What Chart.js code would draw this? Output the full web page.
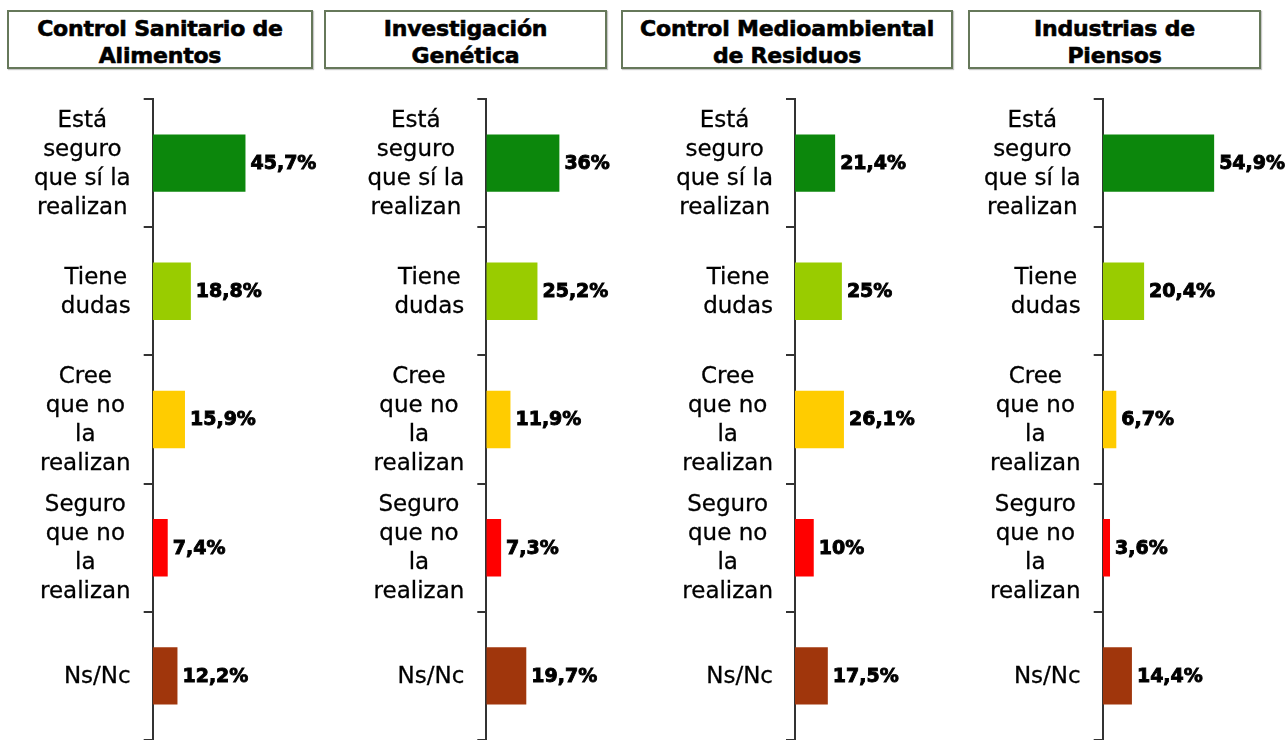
<!DOCTYPE html>
<html>
<head>
<meta charset="utf-8">
<script src="https://cdn.jsdelivr.net/npm/chart.js@4"></script>
<style>
  html, body { margin:0; padding:0; background:#fff; }
  body { width:1287px; height:740px; overflow:hidden; position:relative; font-family:'DejaVu Sans', sans-serif; }
  .title { position:absolute; top:10px; height:59px; box-sizing:border-box; border:2px solid #66785a;
           box-shadow:1px 1px 1px #c8c8c8; font:bold 22px 'DejaVu Sans', sans-serif; color:#000;
           -webkit-text-stroke:0.6px #000; letter-spacing:-0.2px;
           text-align:center; line-height:27px; display:flex; align-items:center; justify-content:center; padding-top:5px; }
  canvas.panel { position:absolute; top:90px; }
</style>
</head>
<body>
<script>
// ---- data ----
const categories = [
  ["Está", "seguro", "que sí la", "realizan"],
  ["Tiene", "dudas"],
  ["Cree", "que no", "la", "realizan"],
  ["Seguro", "que no", "la", "realizan"],
  ["Ns/Nc"]
];
const panelTitles = [
  ["Control Sanitario de", "Alimentos"],
  ["Investigación", "Genética"],
  ["Control Medioambiental", "de Residuos"],
  ["Industrias de", "Piensos"]
];
const valuesSanitario = [45.7, 18.8, 15.9, 7.4, 12.2];
const valuesGenetica  = [36, 25.2, 11.9, 7.3, 19.7];
const valuesResiduos  = [21.4, 25, 26.1, 10, 17.5];
const valuesPiensos   = [54.9, 20.4, 6.7, 3.6, 14.4];
const barColors = ['#0c870c', '#99cc00', '#ffcc00', '#ff0000', '#a0360c'];
const xMax = 80;

// ---- layout (not data) ----
const PX_PER_UNIT = 2.03;
const panels = [
  { values: valuesSanitario, boxL: 7,   boxR: 313,  left: 0,   width: 330, axisX: 152.7 },
  { values: valuesGenetica,  boxL: 324, boxR: 607,  left: 320, width: 330, axisX: 486.3 },
  { values: valuesResiduos,  boxL: 621, boxR: 953,  left: 615, width: 330, axisX: 795 },
  { values: valuesPiensos,   boxL: 968, boxR: 1261, left: 960, width: 327, axisX: 1102.7 }
];
const CANVAS_TOP = 90, CANVAS_H = 660, PLOT_TOP = 99, PLOT_BOTTOM = 740;

const fmt = v => String(v).replace('.', ',') + '%';

const labelPlugin = {
  id: 'customLabels',
  afterDraw(chart) {
    const ctx = chart.ctx;
    const y = chart.scales.y;
    const area = chart.chartArea;
    ctx.save();
    ctx.font = '23px "DejaVu Sans"';
    ctx.fillStyle = '#000';
    ctx.strokeStyle = '#000';
    ctx.lineWidth = 0.3;
    ctx.textAlign = 'center';
    ctx.textBaseline = 'middle';
    const lh = 29;
    categories.forEach((lines, i) => {
      const cy = y.getPixelForValue(i);
      const maxW = Math.max(...lines.map(l => ctx.measureText(l).width));
      const cx = area.left - 22 - maxW / 2;
      lines.forEach((l, j) => {
        const ty = cy + (j - (lines.length - 1) / 2) * lh + 1;
        ctx.fillText(l, cx, ty);
        ctx.strokeText(l, cx, ty);
      });
    });
    ctx.font = 'bold 19px "DejaVu Sans"';
    ctx.fillStyle = '#000';
    ctx.lineWidth = 0.9;
    ctx.textAlign = 'left';
    const meta = chart.getDatasetMeta(0);
    meta.data.forEach((bar, i) => {
      const s = fmt(chart.data.datasets[0].data[i]);
      ctx.fillText(s, bar.x + 5, bar.y + 1);
      ctx.strokeText(s, bar.x + 5, bar.y + 1);
    });
    ctx.restore();
  }
};

panels.forEach((p, k) => {
  const t = document.createElement('div');
  t.className = 'title';
  t.style.left = p.boxL + 'px';
  t.style.width = (p.boxR - p.boxL) + 'px';
  t.innerHTML = panelTitles[k].join('<br>');
  document.body.appendChild(t);

  const c = document.createElement('canvas');
  c.className = 'panel';
  c.width = p.width; c.height = CANVAS_H;
  c.style.left = p.left + 'px';
  c.style.width = p.width + 'px'; c.style.height = CANVAS_H + 'px';
  document.body.appendChild(c);

  const axisOffset = p.axisX - p.left;
  const padRight = p.width - axisOffset - xMax * PX_PER_UNIT;

  new Chart(c, {
    type: 'bar',
    data: {
      labels: categories.map(l => l.join(' ')),
      datasets: [{
        data: p.values,
        backgroundColor: barColors,
        borderWidth: 0,
        barPercentage: 0.448,
        categoryPercentage: 1
      }]
    },
    options: {
      indexAxis: 'y',
      responsive: false,
      animation: false,
      devicePixelRatio: 1,
      layout: { padding: { top: PLOT_TOP - CANVAS_TOP, bottom: CANVAS_TOP + CANVAS_H - PLOT_BOTTOM, left: 0, right: padRight } },
      plugins: { legend: { display: false }, tooltip: { enabled: false }, title: { display: false } },
      scales: {
        x: { display: false, min: 0, max: xMax },
        y: {
          afterFit(scale) { scale.width = axisOffset; },
          ticks: { display: false },
          grid: { display: true, drawOnChartArea: false, drawTicks: true, tickLength: 9, color: '#333', lineWidth: 2, offset: true },
          border: { display: true, color: '#333', width: 2 }
        }
      }
    },
    plugins: [labelPlugin]
  });
});
</script>
</body>
</html>
